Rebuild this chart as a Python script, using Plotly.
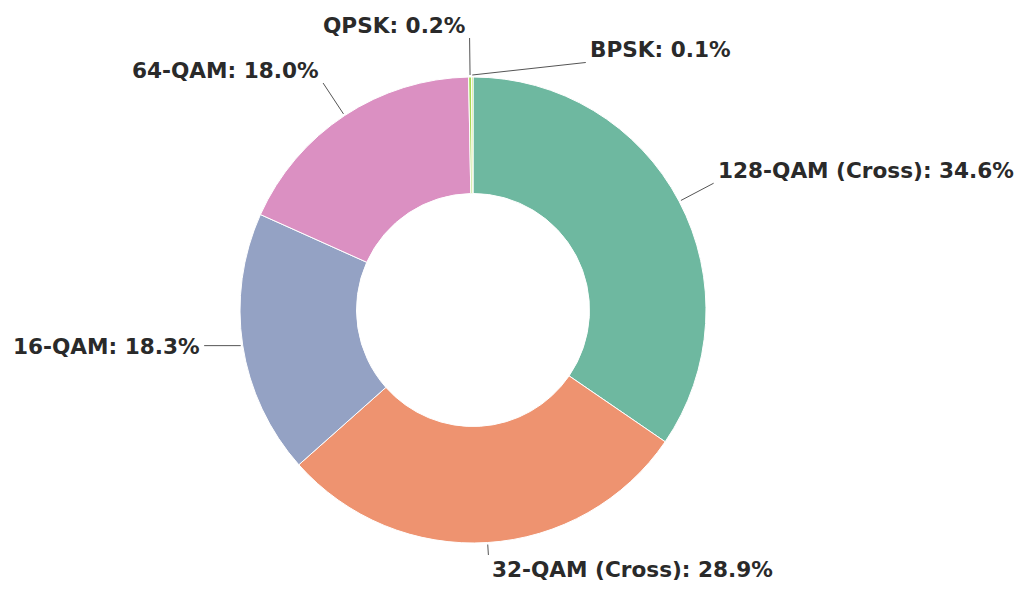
import math
import plotly.graph_objects as go

# modulation share, clockwise from 12 o'clock
labels = ["128-QAM (Cross)", "32-QAM (Cross)", "16-QAM", "64-QAM", "QPSK", "BPSK"]
values = [34.6, 28.9, 18.3, 18.0, 0.2, 0.1]
colors = ["#6eb8a0", "#ee9370", "#94a2c4", "#db90c2", "#a6d854", "#c8d84c"]

# figure fills the page minus the 8px body margin; pie domain is a 466px square
M = dict(l=232, r=309, t=69, b=42)
SIDE = 466

fig = go.Figure(go.Pie(
    labels=labels,
    values=values,
    hole=0.5,
    sort=False,
    direction="clockwise",
    rotation=0,
    textinfo="none",
    hoverinfo="label+percent",
    marker=dict(colors=colors, line=dict(color="white", width=1)),
    showlegend=False,
))

# outside labels with leader lines (paper units, pie radius = 0.5)
r_in = 0.5 + 2 / SIDE
r_out = 272 / SIDE
label_h = 30 / SIDE
moved = {"BPSK": 24.5}  # tiny slice label nudged clear of its neighbour

total = sum(values)
cum = 0
for lab, val in zip(labels, values):
    mid = (cum + val / 2) / total * 360
    cum += val
    a = math.radians(mid)
    a_lab = math.radians(moved.get(lab, mid))
    c = math.cos(a_lab)
    x0, y0 = 0.5 + r_in * math.sin(a), 0.5 + r_in * math.cos(a)
    r_end = r_out
    # keep bottom labels inside the page
    y_min = label_h - M["b"] / SIDE
    if 0.5 + r_end * c < y_min:
        r_end = (0.5 - y_min) / -c
    x1, y1 = 0.5 + r_end * math.sin(a_lab), 0.5 + r_end * c
    yanchor = "bottom" if c > 0.3 else ("top" if c < -0.3 else "middle")
    if yanchor == "middle":
        y1 = y0  # flat leader for side labels
    fig.add_shape(type="line", xref="paper", yref="paper",
                  x0=x0, y0=y0, x1=x1, y1=y1,
                  line=dict(color="#555555", width=1))

    right = math.sin(a_lab) > 0
    pct = val / total * 100
    fig.add_annotation(
        x=x1, y=y1, xref="paper", yref="paper",
        text=f"{lab}: {pct:.1f}%",
        showarrow=False,
        xanchor="left" if right else "right",
        yanchor=yanchor,
        xshift=3 if right else -3,
        yshift=-1,
        borderpad=0,
        font=dict(family="DejaVu Sans", size=21.6, color="#2a2a2a", weight="bold"),
    )

fig.update_layout(
    paper_bgcolor="white",
    plot_bgcolor="white",
    margin=M,
)

fig.write_html("out.html")
